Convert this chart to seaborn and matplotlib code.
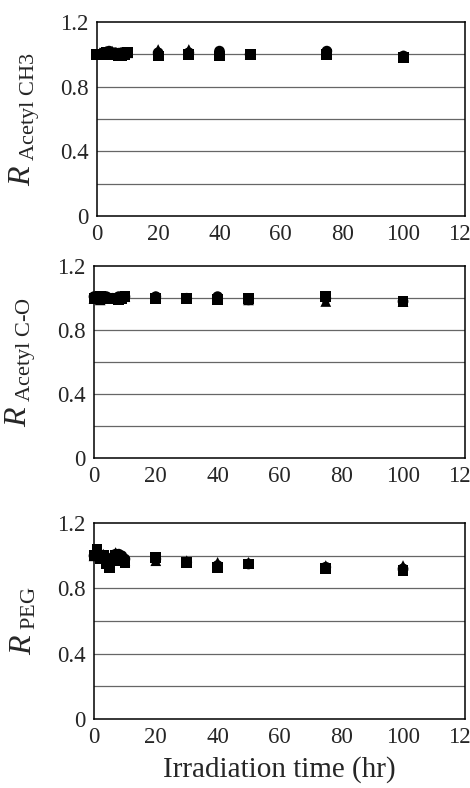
import pandas as pd
import matplotlib
matplotlib.use('Agg')
import matplotlib.pyplot as plt
import seaborn as sns

# irradiation time points (hr)
times = [0, 1, 2, 3, 4, 5, 6, 7, 8, 9, 10, 20, 30, 40, 50, 75, 100]

# R Acetyl CH3
ch3_sq = [1.00, 1.00, 1.00, 1.01, 1.00, 1.00, 1.00, 0.99, 0.99, 1.00, 1.01, 0.99, 1.00, 0.99, 1.00, 1.00, 0.98]
ch3_tri = [1.00, 1.01, 1.01, 1.02, 1.01, 1.02, 1.01, 1.01, 1.01, 1.01, 1.01, 1.03, 1.03, 1.01, 1.00, 1.01, 0.99]
ch3_cir = [1.00, 1.00, 1.01, 1.01, 1.02, 1.01, 1.01, 1.00, 1.01, 1.01, 1.01, 1.01, 1.01, 1.02, 1.00, 1.02, 0.99]

# R Acetyl C-O
co_sq = [1.00, 1.00, 1.01, 1.00, 1.00, 1.00, 1.00, 1.00, 0.99, 1.00, 1.01, 1.00, 1.00, 0.99, 1.00, 1.01, 0.98]
co_tri = [1.00, 1.01, 0.99, 1.00, 1.01, 1.00, 1.00, 1.00, 1.00, 1.01, 1.01, 1.01, 1.00, 1.00, 0.99, 0.98, 0.98]
co_cir = [1.01, 1.00, 1.00, 1.01, 1.01, 1.00, 1.00, 1.00, 1.01, 1.01, 1.01, 1.01, 1.00, 1.01, 0.99, 1.00, 0.98]

# R PEG
peg_sq = [1.00, 1.04, 0.98, 1.00, 0.95, 0.93, 0.97, 1.00, 0.97, 0.98, 0.96, 0.99, 0.96, 0.93, 0.95, 0.92, 0.91]
peg_tri = [1.00, 1.02, 0.99, 1.01, 0.96, 0.95, 0.98, 1.02, 1.00, 0.99, 0.97, 0.97, 0.97, 0.96, 0.96, 0.94, 0.94]
peg_cir = [1.00, 1.00, 1.00, 1.00, 0.97, 0.96, 0.99, 1.01, 1.01, 1.00, 0.98, 0.98, 0.96, 0.94, 0.95, 0.93, 0.92]

xticks = [0, 20, 40, 60, 80, 100, 120]
yticks = [0, 0.4, 0.8, 1.2]
ytick_labels = ['0', '0.4', '0.8', '1.2']

panels = [
    (r'$\mathit{R}_{\ \mathrm{Acetyl\ CH3}}$', ch3_sq, ch3_tri, ch3_cir),
    (r'$\mathit{R}_{\ \mathrm{Acetyl\ C\text{-}O}}$', co_sq, co_tri, co_cir),
    (r'$\mathit{R}_{\ \mathrm{PEG}}$', peg_sq, peg_tri, peg_cir),
]

sns.set_style('white')
plt.rcParams['font.family'] = ['Liberation Serif', 'DejaVu Serif']
plt.rcParams['mathtext.fontset'] = 'custom'
plt.rcParams['mathtext.rm'] = 'Liberation Serif'
plt.rcParams['mathtext.it'] = 'Liberation Serif:italic'

fig = plt.figure(figsize=(4.7, 7.88), dpi=100)
boxes = [
    [0.206, 0.726, 0.783, 0.246],
    [0.200, 0.419, 0.789, 0.243],
    [0.200, 0.088, 0.789, 0.248],
]

for box, (lab, sq, tri, cir) in zip(boxes, panels):
    ax = fig.add_axes(box)
    df = pd.DataFrame({
        'time': times * 3,
        'R': sq + tri + cir,
        'set': ['sq'] * len(times) + ['tri'] * len(times) + ['cir'] * len(times),
    })
    for y in [0.2, 0.4, 0.6, 0.8, 1.0]:
        ax.axhline(y, color='#666666', lw=0.9, zorder=0)
    sns.scatterplot(data=df, x='time', y='R', style='set',
                    markers={'sq': 's', 'tri': '^', 'cir': 'o'},
                    color='black', s=60, edgecolor='black', linewidth=0,
                    legend=False, ax=ax, zorder=3, clip_on=False)
    ax.set_xlim(0, 120)
    ax.set_ylim(0, 1.2)
    ax.set_xticks(xticks)
    ax.set_yticks(yticks)
    ax.set_yticklabels(ytick_labels)
    ax.tick_params(axis='both', labelsize=16.5, length=3, direction='out', pad=3)
    ax.set_xlabel('')
    ax.set_ylabel(lab, fontsize=23)
    ax.yaxis.set_label_coords(-0.15, 0.5)
    for sp in ax.spines.values():
        sp.set_color('black')
        sp.set_linewidth(1.1)

ax.set_xlabel('Irradiation time (hr)', fontsize=21, labelpad=6)

fig.savefig('out.png', dpi=100)
